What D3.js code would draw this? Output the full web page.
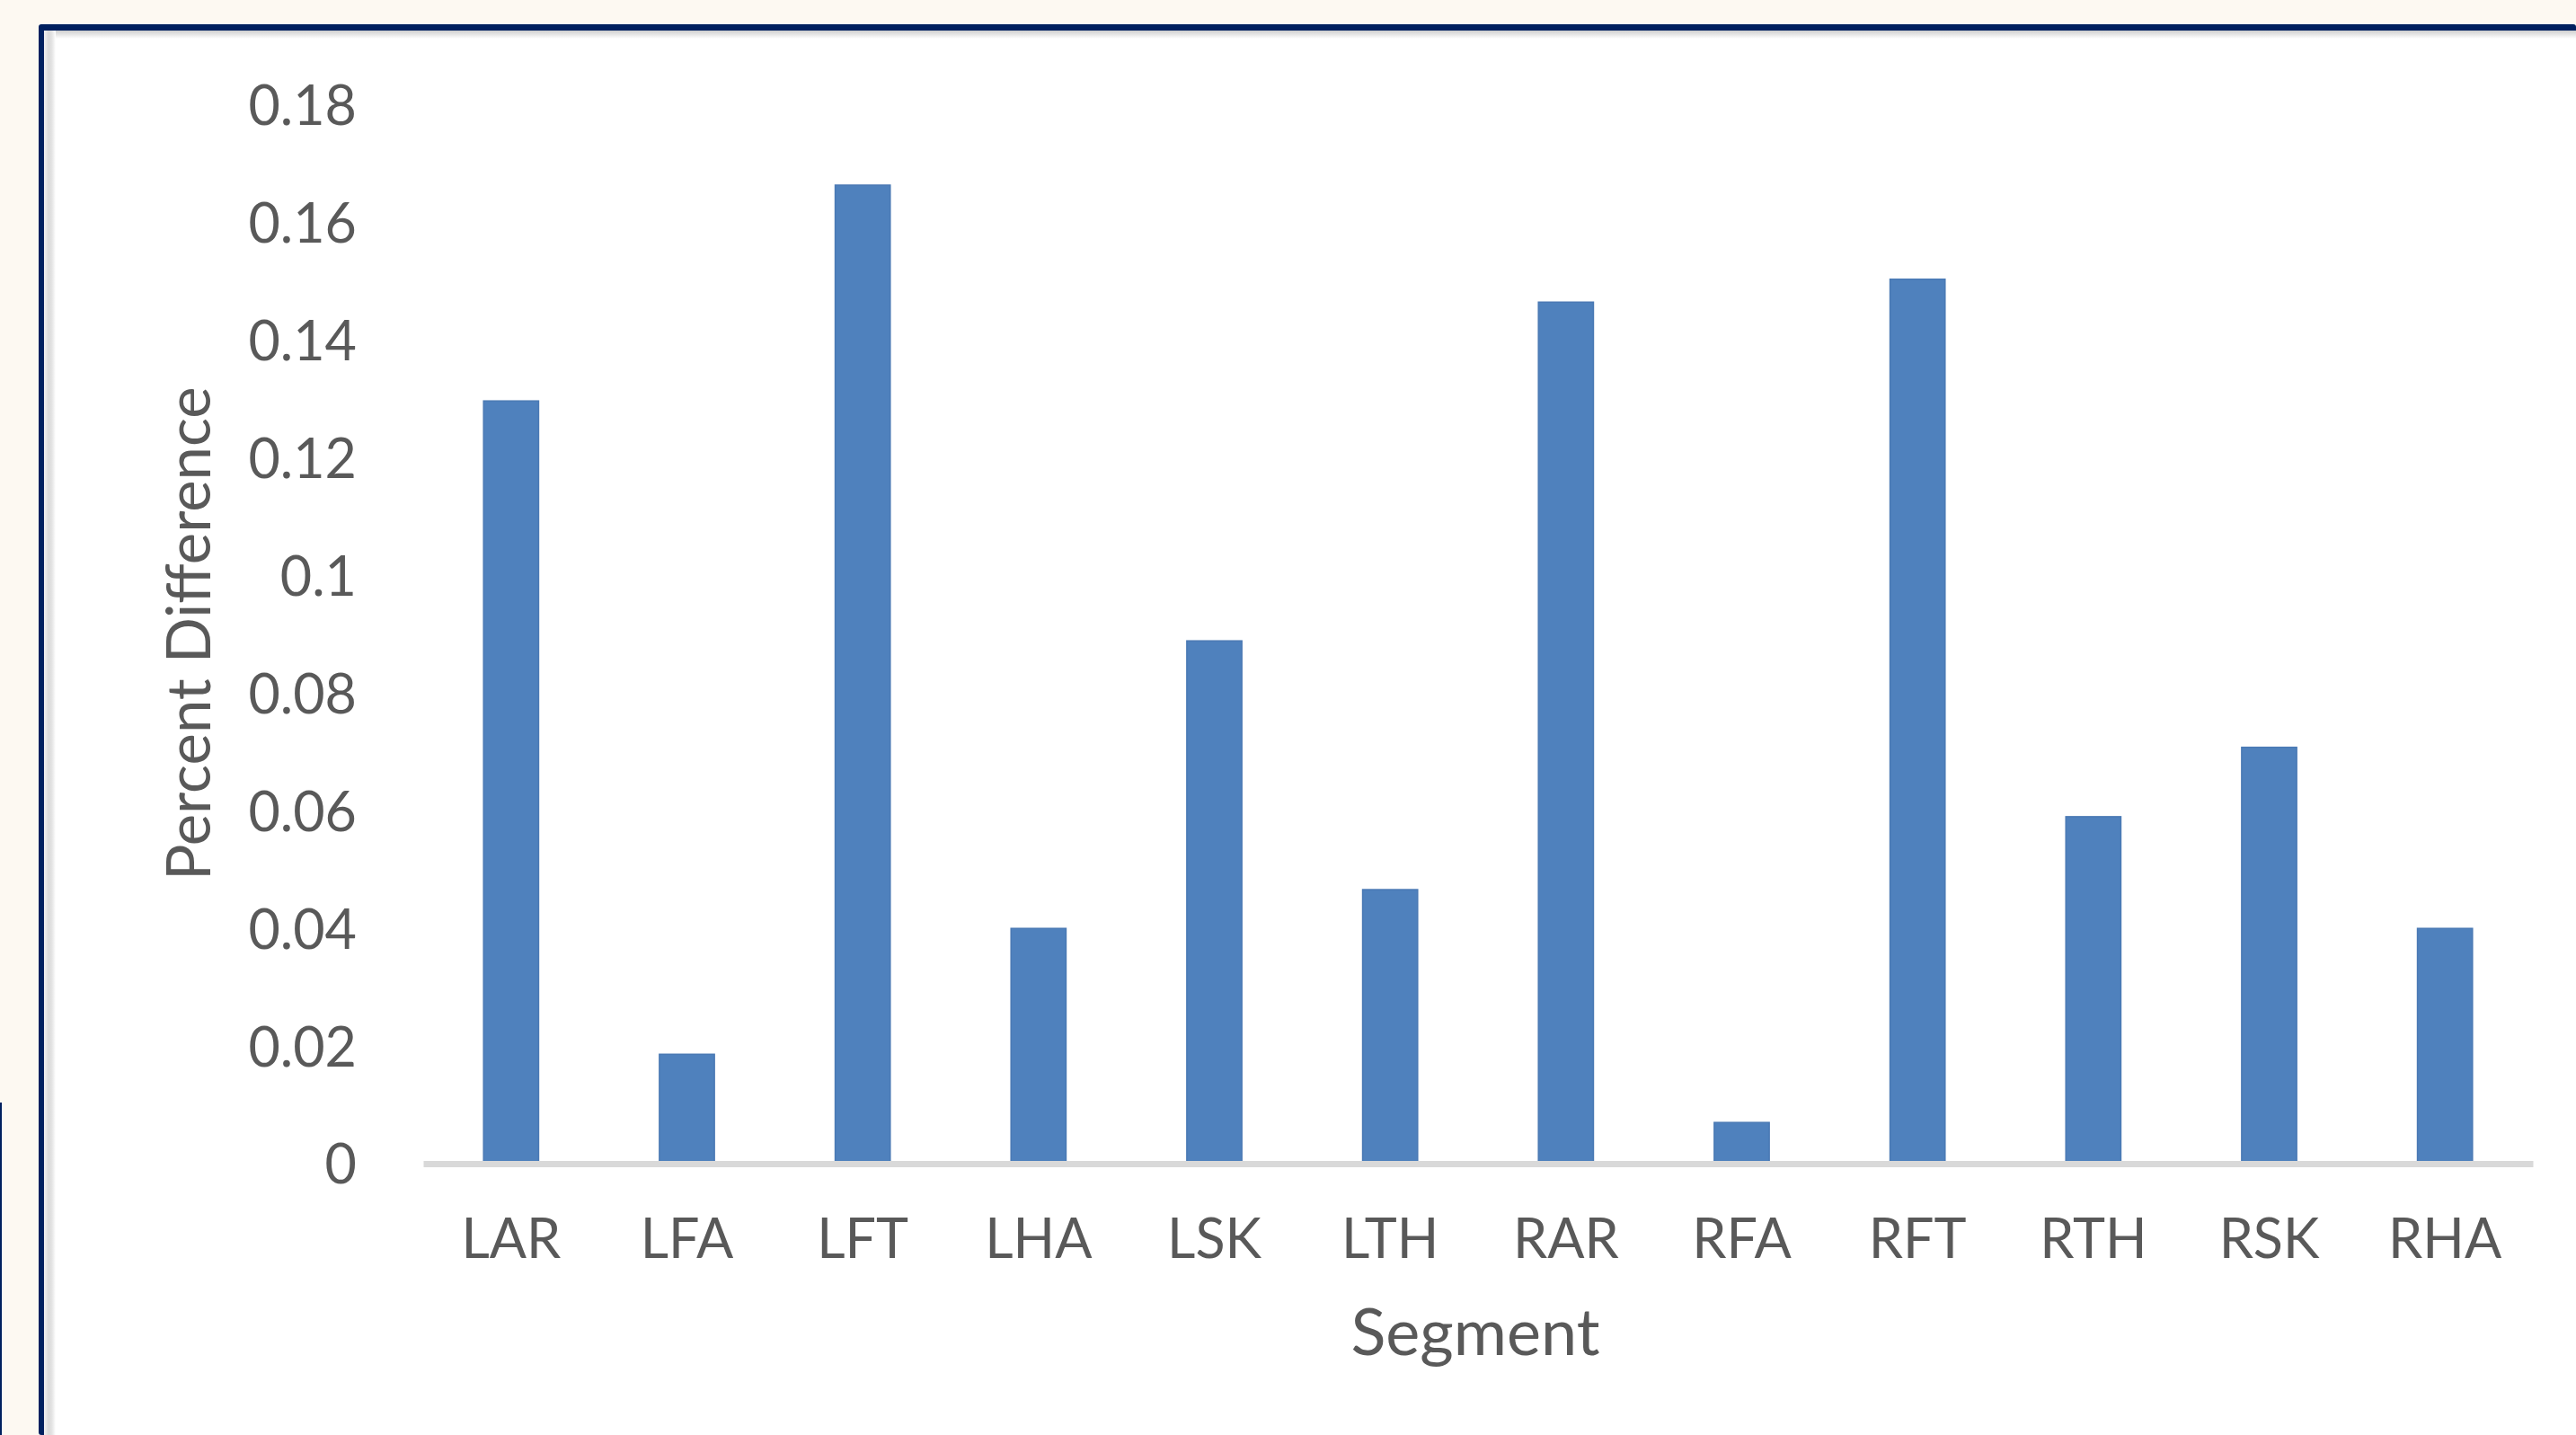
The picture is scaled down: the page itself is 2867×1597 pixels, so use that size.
<!DOCTYPE html>
<html>
<head>
<meta charset="utf-8">
<script src="https://cdn.jsdelivr.net/npm/d3@7"></script>
<style>
  html, body { margin: 0; padding: 0; background: #fdf9f2; }
  svg { display: block; }
  text { font-family: Lato, "Open Sans", sans-serif; fill: #595959; }
</style>
</head>
<body>
<svg id="chart" width="2867" height="1597"></svg>
<script>
// Percent difference per body segment
const segments = ["LAR", "LFA", "LFT", "LHA", "LSK", "LTH", "RAR", "RFA", "RFT", "RTH", "RSK", "RHA"];
const percentDiff = [0.1297, 0.0186, 0.1664, 0.0400, 0.0889, 0.0466, 0.1465, 0.0070, 0.1504, 0.0590, 0.0708, 0.0400];
const yTicks = [0, 0.02, 0.04, 0.06, 0.08, 0.10, 0.12, 0.14, 0.16, 0.18];
const yTickLabels = ["0", "0.02", "0.04", "0.06", "0.08", "0.1", "0.12", "0.14", "0.16", "0.18"];
const xTitle = "Segment";
const yTitle = "Percent Difference";

const W = 2867, H = 1597;
const svg = d3.select("#chart");

// Slide frame: cream page, navy rule on top and left, soft inner shading
const defs = svg.append("defs");
const gTop = defs.append("linearGradient").attr("id", "shadeTop").attr("x1", 0).attr("y1", 0).attr("x2", 0).attr("y2", 1);
gTop.append("stop").attr("offset", 0).attr("stop-color", "#cfcfcf");
gTop.append("stop").attr("offset", 1).attr("stop-color", "#ffffff");
const gLeft = defs.append("linearGradient").attr("id", "shadeLeft").attr("x1", 0).attr("y1", 0).attr("x2", 1).attr("y2", 0);
gLeft.append("stop").attr("offset", 0).attr("stop-color", "#f2f2f2");
gLeft.append("stop").attr("offset", 0.4).attr("stop-color", "#d9d9d9");
gLeft.append("stop").attr("offset", 0.7).attr("stop-color", "#e6e6e6");
gLeft.append("stop").attr("offset", 1).attr("stop-color", "#ffffff");

svg.append("rect").attr("x", 0).attr("y", 0).attr("width", W).attr("height", H).attr("fill", "#fdf9f2");
svg.append("rect").attr("x", 43).attr("y", 27).attr("width", W - 43).attr("height", H - 27)
  .attr("rx", 3).attr("fill", "#00205f");
svg.append("rect").attr("x", 49).attr("y", 34).attr("width", W - 49).attr("height", H - 34).attr("fill", "#ffffff");
svg.append("rect").attr("x", 49).attr("y", 34).attr("width", W - 49).attr("height", 9).attr("fill", "url(#shadeTop)");
svg.append("rect").attr("x", 49).attr("y", 34).attr("width", 13).attr("height", H - 34).attr("fill", "url(#shadeLeft)");
svg.append("rect").attr("x", 0).attr("y", 1227).attr("width", 2).attr("height", H - 1227).attr("fill", "#00205f");

// Scales
const x = d3.scaleBand()
  .domain(segments)
  .range([471, 2819])
  .paddingInner(0.687)
  .paddingOuter(0.3435);

const y = d3.scaleLinear()
  .domain([0, 0.18])
  .range([1295, 117]);

// Y axis labels
const yAxis = d3.axisLeft(y)
  .tickValues(yTicks)
  .tickFormat((d, i) => yTickLabels[i])
  .tickSize(0)
  .tickPadding(0);

svg.append("g")
  .attr("transform", "translate(397,0)")
  .call(yAxis)
  .call(g => g.select(".domain").remove())
  .call(g => g.selectAll("text")
    .attr("dy", "0.36em")
    .style("font-family", "Lato, 'Open Sans', sans-serif")
    .style("font-size", "61px")
    .attr("fill", "#595959"));

// Bars
svg.append("g")
  .selectAll("rect")
  .data(segments)
  .join("rect")
  .attr("x", d => x(d))
  .attr("y", (d, i) => y(percentDiff[i]))
  .attr("width", x.bandwidth())
  .attr("height", (d, i) => y(0) - y(percentDiff[i]))
  .attr("fill", "#4f81bd")
  .attr("stroke", "#4a79b4")
  .attr("stroke-width", 1.5);

// X axis with category labels
const xAxis = d3.axisBottom(x).tickSize(0).tickSizeOuter(0).tickPadding(0);
svg.append("g")
  .attr("transform", `translate(0,${y(0)})`)
  .call(xAxis)
  .call(g => g.select(".domain").attr("stroke", "#d9d9d9").attr("stroke-width", 7))
  .call(g => g.selectAll("text")
    .attr("dy", 0)
    .attr("y", 105)
    .style("font-family", "Lato, 'Open Sans', sans-serif")
    .style("font-size", "61px")
    .attr("fill", "#595959"));

// Axis titles
svg.append("text")
  .attr("x", 1642)
  .attr("y", 1508)
  .attr("text-anchor", "middle")
  .style("font-size", "72px")
  .text(xTitle);

svg.append("text")
  .attr("transform", "translate(210,705) rotate(-90)")
  .attr("dy", "0.36em")
  .attr("text-anchor", "middle")
  .style("font-size", "67px")
  .text(yTitle);
</script>
</body>
</html>
